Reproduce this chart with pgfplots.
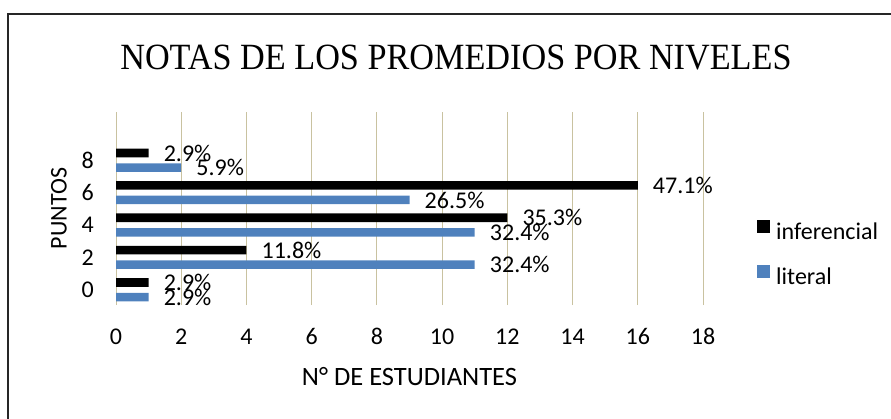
\documentclass[border=0pt]{standalone}
\usepackage{pgfplots}
\pgfplotsset{compat=1.18}
\usepackage{fontspec}
\setmainfont{Carlito}
\newfontfamily\titlefont{Liberation Serif}
\definecolor{litblue}{HTML}{4F81BD}
\definecolor{gridtan}{HTML}{C9C2A0}
\pgfplotsset{sqlegend/.style={legend image code/.code={\fill[##1] (0pt,0pt) rectangle (13pt,13pt);}}}

\begin{document}
\begin{tikzpicture}[x=1pt,y=1pt]
\useasboundingbox (0,0) rectangle (891,418);
\begin{scope}
  \clip (0,0) rectangle (891,418);
  \draw[line width=2pt, black!85] (7.8,-10) -- (7.8,403.7) -- (920,403.7);
\end{scope}
\node[anchor=base, font=\titlefont\fontsize{37}{40}\selectfont] at (456,348)
  {\scalebox{0.925}[1]{NOTAS DE LOS PROMEDIOS POR NIVELES}};
\begin{axis}[
  at={(116pt,113pt)}, anchor=south west,
  scale only axis, width=587pt, height=193pt,
  xbar, bar width=8.6pt,
  xmin=0, xmax=18, xtick={0,2,...,18},
  ymin=-0.47, ymax=5.49, ytick={0,1,2,3,4}, yticklabels={0,2,4,6,8},
  axis line style={draw=none},
  major tick length=0pt,
  xmajorgrids, ymajorgrids=false,
  grid style={gridtan, line width=0.8pt},
  font=\fontsize{24}{28}\selectfont,
  /pgf/number format/assume math mode=true,
  xticklabel style={anchor=base, yshift=-39pt, inner sep=0pt},
  yticklabel style={anchor=east, xshift=-22pt, inner sep=0pt},
  xlabel={N° DE ESTUDIANTES},
  xlabel style={at={(axis description cs:0.5,-0.4145)}, anchor=base,
    font=\fontsize{26.5}{30}\selectfont},
  ylabel={PUNTOS},
  ylabel style={at={(axis description cs:-0.084,0.5)}, anchor=base},
  nodes near coords, point meta=explicit symbolic,
  every node near coord/.append style={anchor=west, inner sep=0pt, xshift=15pt, text=black},
  legend cell align=left,
  legend style={at={(axis description cs:1.092,0.4389)}, anchor=north west,
    draw=none, fill=none, inner sep=0pt, row sep=21pt,
    nodes={inner sep=0pt, text height=17pt, text depth=5pt},
    /tikz/every odd column/.append style={column sep=6pt}},
]
\addplot[fill=black, draw=none, bar shift=7.3pt, sqlegend]
  coordinates {(1,0)[2.9\%] (4,1)[11.8\%] (12,2)[35.3\%] (16,3)[47.1\%] (1,4)[2.9\%]};
\addplot[fill=litblue, draw=none, bar shift=-7.3pt, sqlegend]
  coordinates {(1,0)[2.9\%] (11,1)[32.4\%] (11,2)[32.4\%] (9,3)[26.5\%] (2,4)[5.9\%]};
\legend{inferencial, literal}
\end{axis}
\end{tikzpicture}
\end{document}
